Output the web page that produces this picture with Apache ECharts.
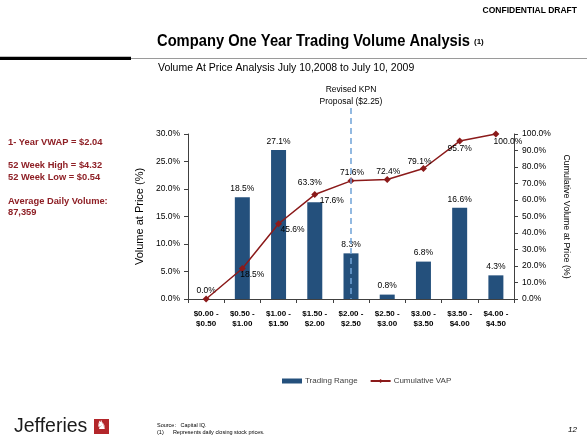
<!DOCTYPE html>
<html><head><meta charset="utf-8">
<script src="https://cdn.jsdelivr.net/npm/echarts@6/dist/echarts.min.js"></script>
<style>html,body{margin:0;padding:0;background:#fff}#c{width:587px;height:440px}</style>
</head><body><div id="c"></div>
<script>
const categories = ['$0.00 -\n$0.50','$0.50 -\n$1.00','$1.00 -\n$1.50','$1.50 -\n$2.00','$2.00 -\n$2.50','$2.50 -\n$3.00','$3.00 -\n$3.50','$3.50 -\n$4.00','$4.00 -\n$4.50'];
const tradingRange = [0.0, 18.5, 27.1, 17.6, 8.3, 0.8, 6.8, 16.6, 4.3];
const cumulativeVAP = [0.0, 18.5, 45.6, 63.3, 71.6, 72.4, 79.1, 95.7, 100.0];
const leftTicks = {min: 0, max: 30, interval: 5};
const rightTicks = {min: 0, max: 100, interval: 10};
const proposalCategoryIndex = 4;

const FONT = '"Liberation Sans", Arial, sans-serif';
const barColor = '#24507C';
const lineColor = '#8B1A1A';
const infoColor = '#8E1F25';

// per-point label placement (styles only)
const barLabelOffsets = [[0,0],[0,0],[0,0],[17,7],[0,0],[0,0],[0,0],[0,0],[0,0]];
const lineLabelOffsets = [null,[10,6],[14,6],[-5,-12],[1,-8],[1,-8],[-4,-7],[0,8],[12,8]];

const chart = echarts.init(document.getElementById('c'), null, {renderer:'canvas'});

const barData = tradingRange.map((v,i)=>({value:v, label:{offset:barLabelOffsets[i]}}));
const lineData = cumulativeVAP.map((v,i)=>{
  const o = lineLabelOffsets[i];
  return o ? {value:v, label:{show:true, position:'inside', offset:o}} : {value:v, label:{show:false}};
});

const tickFmt = v => v.toFixed(1) + '%';

const option = {
  animation:false,
  textStyle:{fontFamily:FONT},
  grid:{left:188, right:73, top:134, height:165},
  legend:{
    left:277, top:372, itemGap:12, itemWidth:20, itemHeight:5,
    textStyle:{fontSize:8, color:'#404040', fontFamily:FONT, padding:[0,0,0,-2]},
    data:[{name:'Trading Range', icon:'rect'},{name:'Cumulative VAP'}]
  },
  xAxis:{
    type:'category', data:categories,
    axisLine:{lineStyle:{color:'#404040'}},
    axisTick:{show:true, length:4, lineStyle:{color:'#404040'}},
    axisLabel:{fontSize:8, fontWeight:'bold', color:'#000', fontFamily:FONT, lineHeight:10, margin:10}
  },
  yAxis:[{
    type:'value', min:leftTicks.min, max:leftTicks.max, interval:leftTicks.interval,
    name:'Volume at Price (%)', nameLocation:'middle', nameGap:42,
    nameTextStyle:{fontSize:11, color:'#000', fontFamily:FONT},
    axisLine:{show:true, lineStyle:{color:'#404040'}},
    axisTick:{show:true, length:4, lineStyle:{color:'#404040'}},
    splitLine:{show:false},
    axisLabel:{fontSize:8.5, color:'#000', fontFamily:FONT, margin:8, formatter:tickFmt}
  },{
    type:'value', min:rightTicks.min, max:rightTicks.max, interval:rightTicks.interval,
    name:'Cumulative Volume at Price (%)', nameLocation:'middle', nameGap:34, nameRotate:-90,
    nameTextStyle:{fontSize:8.8, color:'#000', fontFamily:FONT},
    axisLine:{show:true, lineStyle:{color:'#404040'}},
    axisTick:{show:true, length:4, lineStyle:{color:'#404040'}},
    splitLine:{show:false},
    axisLabel:{fontSize:8.5, color:'#000', fontFamily:FONT, margin:8, formatter:tickFmt}
  }],
  series:[{
    name:'Trading Range', type:'bar', data:barData, barWidth:15,
    itemStyle:{color:barColor},
    label:{show:true, position:'top', distance:4, fontSize:8.5, color:'#000', fontFamily:FONT, formatter:p=>p.value.toFixed(1)+'%'}
  },{
    name:'Cumulative VAP', type:'line', yAxisIndex:1, data:lineData,
    symbol:'diamond', symbolSize:7, z:5,
    lineStyle:{color:lineColor, width:1.5}, itemStyle:{color:lineColor},
    label:{fontSize:8.5, color:'#000', fontFamily:FONT, formatter:p=>p.value.toFixed(1)+'%'}
  }]
};
chart.setOption(option);

// proposal reference line through the category scale
const px = chart.convertToPixel({xAxisIndex:0}, proposalCategoryIndex);
const py0 = chart.convertToPixel({yAxisIndex:0}, 0);

const g = [
  {type:'text', right:10, top:6, style:{text:'CONFIDENTIAL DRAFT', font:'bold 8.5px '+FONT, fill:'#000'}},
  {type:'text', x:157, y:50, scaleX:0.92, style:{text:'Company One Year Trading Volume Analysis', font:'bold 16px '+FONT, fill:'#000', verticalAlign:'bottom'}},
  {type:'text', x:474, y:38, style:{text:'(1)', font:'bold 8px '+FONT, fill:'#000'}},
  {type:'rect', shape:{x:0, y:56.7, width:131, height:3.4}, style:{fill:'#000'}},
  {type:'line', shape:{x1:131, y1:58.5, x2:587, y2:58.5}, style:{stroke:'#9a9a9a', lineWidth:1}},
  {type:'text', x:158, y:63, style:{text:'Volume At Price Analysis July 10,2008 to July 10, 2009', font:'10.5px '+FONT, fill:'#000'}},
  {type:'text', x:px, y:84, style:{text:'Revised KPN\nProposal ($2.25)', font:'8.5px '+FONT, fill:'#000', align:'center', lineHeight:11.5}},
  {type:'line', z:10, shape:{x1:px, y1:108, x2:px, y2:py0}, style:{stroke:'#6fa3d8', lineWidth:1.5, lineDash:[6,4]}},
  {type:'text', left:8, top:138, style:{text:'1- Year VWAP = $2.04', font:'bold 9.3px '+FONT, fill:infoColor}},
  {type:'text', left:8, top:159.5, style:{text:'52 Week High = $4.32\n52 Week Low = $0.54', font:'bold 9.3px '+FONT, fill:infoColor, lineHeight:12}},
  {type:'text', left:8, top:195.5, style:{text:'Average Daily Volume:\n87,359', font:'bold 9.3px '+FONT, fill:infoColor, lineHeight:11}},
  {type:'text', x:14, y:437, style:{text:'Jefferies', font:'19.5px '+FONT, fill:'#1a1a1a', verticalAlign:'bottom'}},
  {type:'rect', shape:{x:94, y:419, width:15, height:15}, style:{fill:'#b3262a'}},
  {type:'text', left:96, top:420, style:{text:'♞', font:'12px "DejaVu Sans"', fill:'#fff'}},
  {type:'text', x:157, y:422, style:{text:'Source:   Capital IQ.\n(1)      Represents daily closing stock prices.', font:'5.5px '+FONT, fill:'#000', lineHeight:7}},
  {type:'text', right:10, top:426, style:{text:'12', font:'italic 8px '+FONT, fill:'#000'}}
];
chart.setOption({graphic:g});
</script>
</body></html>
